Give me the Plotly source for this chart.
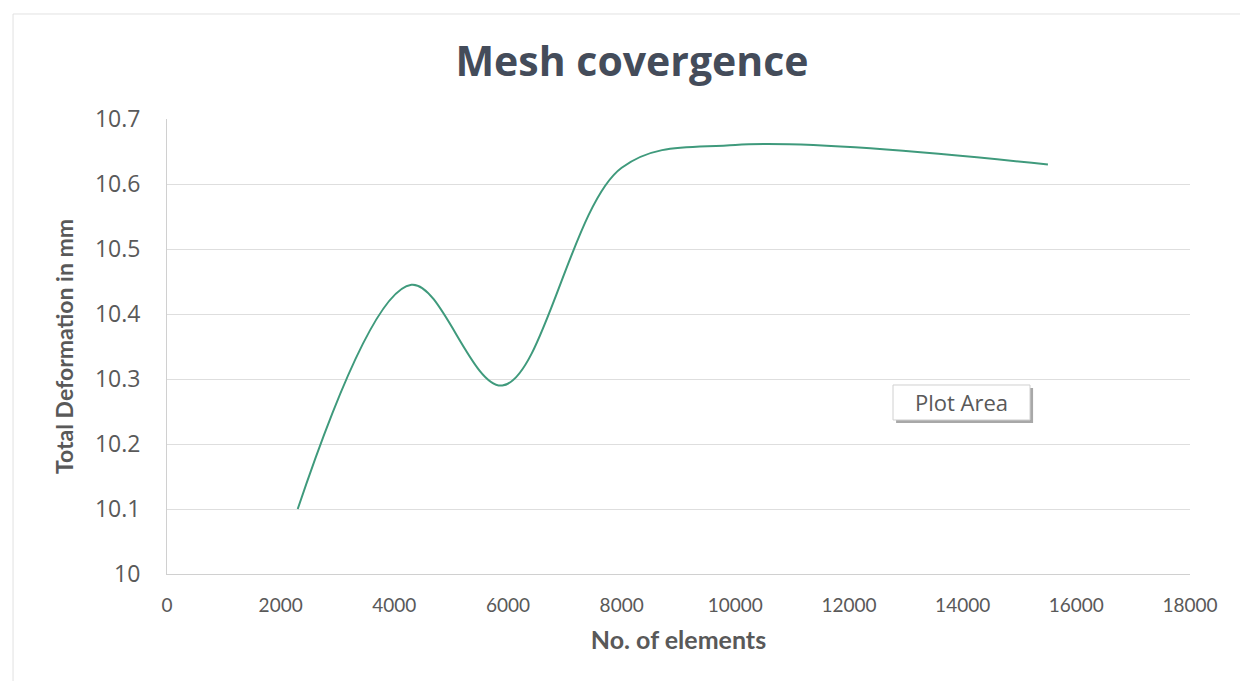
import plotly.graph_objects as go

elements = [2300, 4300, 5900, 8000, 10000, 15500]
deformation = [10.10, 10.445, 10.29, 10.625, 10.66, 10.63]

x_ticks = [0, 2000, 4000, 6000, 8000, 10000, 12000, 14000, 16000, 18000]
y_ticks = [10, 10.1, 10.2, 10.3, 10.4, 10.5, 10.6, 10.7]
y_labels = ["10", "10.1", "10.2", "10.3", "10.4", "10.5", "10.6", "10.7"]

fig = go.Figure()
fig.add_trace(go.Scatter(
    x=elements, y=deformation, mode="lines",
    line=dict(color="#3f9a7c", width=2, shape="spline", smoothing=1.0),
    showlegend=False, hoverinfo="skip"))

fig.update_layout(
    width=1248, height=681,
    margin=dict(l=159, r=66, t=111, b=115),
    paper_bgcolor="white", plot_bgcolor="white",
    title=dict(text="<b>Mesh covergence</b>", x=0.5, xanchor="center", y=0.921, yanchor="middle",
               font=dict(family="Open Sans", size=41, color="#444c5a")),
    xaxis=dict(range=[0, 18000], tickvals=x_ticks, ticktext=[str(v) for v in x_ticks],
               showgrid=False, zeroline=False, showline=True, linecolor="#d0d0d0", linewidth=1,
               ticks="", ticklabelstandoff=14,
               tickfont=dict(family="Lato", size=19, color="#595959"),
               title=dict(text="<b>No. of elements</b>", font=dict(family="Lato", size=25, color="#595959"),
                          standoff=16)),
    yaxis=dict(range=[10, 10.7], tickvals=y_ticks, ticktext=y_labels,
               showgrid=True, gridcolor="#dedede", gridwidth=1, zeroline=False,
               showline=True, linecolor="#d0d0d0", linewidth=1, ticks="", ticklabelstandoff=21,
               tickfont=dict(family="Open Sans", size=23, color="#595959"),
               title=dict(text="<b>Total Deformation in mm</b>", font=dict(family="Lato", size=23, color="#595959"),
                          standoff=14)),
)

# outer chart frame
fig.add_shape(type="line", xref="paper", yref="paper", x0=-0.1505, x1=1.1, y0=1.2308, y1=1.2308,
              line=dict(color="#e2e2e2", width=1))
fig.add_shape(type="line", xref="paper", yref="paper", x0=-0.1505, x1=-0.1505, y0=-0.3, y1=1.2308,
              line=dict(color="#e2e2e2", width=1))

# "Plot Area" tooltip with shadow
fig.add_shape(type="rect", xref="paper", yref="paper", x0=0.7127, x1=0.8466, y0=0.3319, y1=0.4088,
              line=dict(width=0), fillcolor="#a8a8a8", layer="above")
fig.add_shape(type="rect", xref="paper", yref="paper", x0=0.7097, x1=0.8436, y0=0.3385, y1=0.4154,
              line=dict(color="#d0d0d0", width=1), fillcolor="white", layer="above")
fig.add_annotation(text="Plot Area", xref="paper", yref="paper", x=0.7766, y=0.379,
                   xanchor="center", yanchor="middle", showarrow=False,
                   font=dict(family="Open Sans", size=22, color="#595959"))

fig.write_html("out.html")
